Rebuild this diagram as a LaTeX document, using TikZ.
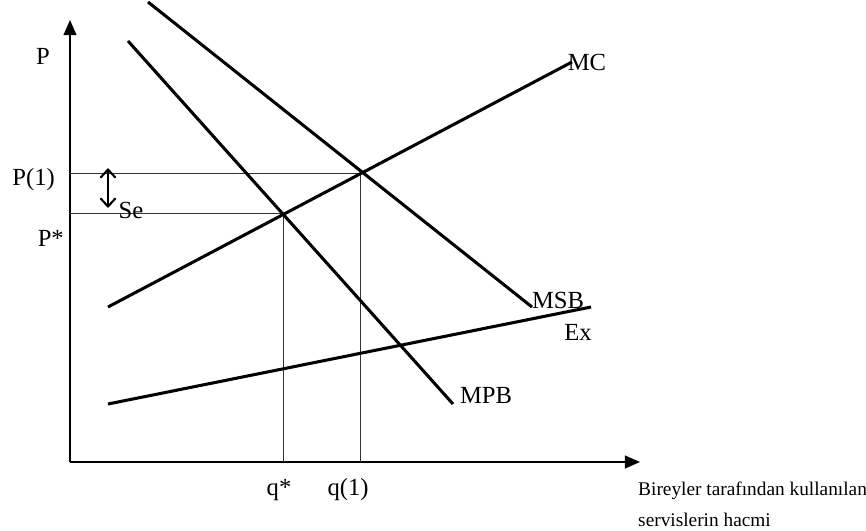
\documentclass[tikz,border=0pt]{standalone}
\usepackage{fontspec}
\setmainfont{Liberation Serif}
\usetikzlibrary{arrows.meta,positioning}

\begin{document}
\begin{tikzpicture}[
  x=0.03cm,y=-0.03cm,
  axis/.style={draw=black,line width=1.6pt,-{Triangle[length=13pt,width=11pt]}},
  curve/.style={draw=black,line width=2.6pt},
  guide/.style={draw=black!80,line width=0.7pt},
  lbl/.style={font=\fontsize{21}{25}\selectfont,inner sep=0pt},
  note/.style={font=\fontsize{16.5}{20}\selectfont,inner sep=0pt,anchor=west}
]
  \useasboundingbox (0,0) rectangle (866,531);

  %% ---- axes ----
  \coordinate (origin) at (70,462);
  \coordinate (ytip) at (70,20);
  \coordinate (xtip) at (640,462);
  \draw[axis] (origin) -- (ytip);
  \draw[axis] (origin) -- (xtip);

  %% ---- curve end points ----
  \coordinate (msbA) at (148,2);
  \coordinate (msbB) at (532,307);
  \coordinate (mpbA) at (128,41);
  \coordinate (mpbB) at (453,404);
  \coordinate (mcA) at (108,307);
  \coordinate (mcB) at (572,62);
  \coordinate (exA) at (108,404);
  \coordinate (exB) at (591,307);

  %% ---- equilibrium points ----
  \coordinate (eqone) at (360,173);
  \coordinate (eqstar) at (283,213);
  \coordinate (pone) at (70,173);
  \coordinate (pstar) at (70,213);
  \coordinate (qone) at (360,462);
  \coordinate (qstar) at (283,462);

  % guide lines
  \draw[guide] (pone) -- (eqone) -- (qone);
  \draw[guide] (pstar) -- (eqstar) -- (qstar);

  % curves
  \draw[curve] (msbA) -- (msbB);
  \draw[curve] (mpbA) -- (mpbB);
  \draw[curve] (mcA) -- (mcB);
  \draw[curve] (exA) -- (exB);

  % Se gap
  \coordinate (seTop) at (108,168);
  \coordinate (seBot) at (108,208);
  \draw[line width=1.8pt,{Straight Barb[length=7pt,width=13pt]}-{Straight Barb[length=7pt,width=13pt]}] (seTop) -- (seBot);

  %% ---- labels ----
  \node[lbl] (lblP) at (43,56) {P};
  \node[lbl,anchor=east] (lblPone) at (55,180) {P(1)};
  \node[lbl,anchor=east] (lblPstar) at (64,238) {P*};
  \node[lbl] (lblSe) at (131,210) {Se};
  \node[lbl] (lblMC) at (587,62) {MC};
  \node[lbl] (lblMSB) at (558,300) {MSB};
  \node[lbl] (lblEx) at (578,332) {Ex};
  \node[lbl] (lblMPB) at (486,395) {MPB};
  \node[lbl] (lblqstar) at (279,490) {q*};
  \node[lbl] (lblqone) at (348,490) {q(1)};
  \node[note] (lblxone) at (638,491) {Bireyler tarafından kullanılan};
  \node[note] (lblxtwo) at (638,520) {servislerin hacmi};
\end{tikzpicture}
\end{document}
